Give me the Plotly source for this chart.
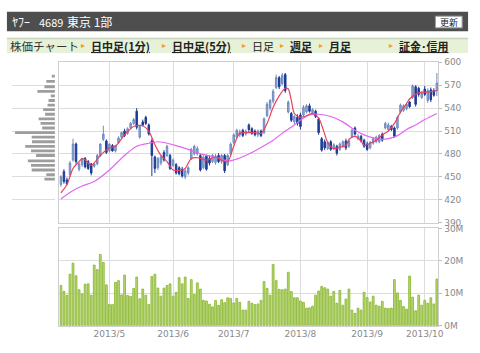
import plotly.graph_objects as go

W, H = 480, 353

# ---------------- data ----------------
apr_days = [8, 9, 10, 11, 12, 15, 16, 17, 18, 19, 22, 23, 24, 25, 26, 30]
may_days = [1, 2, 7, 8, 9, 10, 13, 14, 15, 16, 17, 20, 21, 22, 23, 24, 27, 28, 29, 30, 31]
jun_days = [3, 4, 5, 6, 7, 10, 11, 12, 13, 14, 17, 18, 19, 20, 21, 24, 25, 26, 27, 28]
jul_days = [1, 2, 3, 4, 5, 8, 9, 10, 11, 12, 16, 17, 18, 19, 22, 23, 24, 25, 26, 29, 30, 31]
aug_days = [1, 2, 5, 6, 7, 8, 9, 12, 13, 14, 15, 16, 19, 20, 21, 22, 23, 26, 27, 28, 29, 30]
sep_days = [2, 3, 4, 5, 6, 9, 10, 11, 12, 13, 17, 18, 19, 20, 24, 25, 26, 27, 30]
oct_days = [1, 2, 3, 4, 7]

dates = ([f"2013-04-{d:02d}" for d in apr_days] + [f"2013-05-{d:02d}" for d in may_days] +
         [f"2013-06-{d:02d}" for d in jun_days] + [f"2013-07-{d:02d}" for d in jul_days] +
         [f"2013-08-{d:02d}" for d in aug_days] + [f"2013-09-{d:02d}" for d in sep_days] +
         [f"2013-10-{d:02d}" for d in oct_days])

opens = [440, 457, 446, 453, 472, 493, 460, 466, 474, 470, 467, 464, 467, 478, 499, 497,
         484, 491, 484, 495, 502, 510, 507, 514, 520, 536, 502, 522, 528, 518, 497, 476,
         462, 468, 482, 478, 478, 465, 466, 462, 460, 450, 455, 474, 480, 480, 478, 462,
         477, 474, 470, 469, 478, 470, 478, 466, 480, 495, 502, 505, 511, 506, 518, 513,
         510, 505, 510, 508, 530, 540, 549, 567, 580, 572, 584, 535, 533, 522, 528, 531,
         531, 535, 543, 534, 536, 526, 500, 496, 487, 496, 487, 490, 486, 490, 497, 490,
         503, 514, 500, 503, 498, 493, 488, 494, 496, 496, 506, 514, 512, 516, 514, 514,
         535, 537, 539, 548, 554, 568, 566, 554, 565, 550, 564, 563, 563]
highs = [452, 460, 449, 471, 500, 495, 469, 475, 476, 472, 468, 469, 480, 494, 517, 499,
         494, 493, 492, 503, 509, 513, 515, 522, 527, 540, 518, 525, 530, 520, 500, 478,
         476, 478, 485, 492, 480, 474, 468, 464, 463, 460, 464, 488, 492, 490, 480, 478,
         479, 478, 480, 480, 481, 480, 480, 480, 495, 507, 513, 512, 513, 512, 520, 515,
         512, 512, 512, 528, 548, 552, 565, 584, 582, 586, 586, 550, 535, 531, 532, 534,
         544, 545, 546, 540, 538, 528, 502, 499, 497, 498, 494, 492, 495, 498, 500, 499,
         513, 516, 506, 505, 500, 496, 497, 502, 504, 506, 508, 522, 521, 518, 516, 530,
         546, 545, 547, 549, 571, 570, 568, 562, 569, 566, 567, 566, 586]
lows = [437, 441, 439, 450, 470, 467, 457, 463, 461, 459, 452, 462, 465, 476, 497, 480,
        482, 483, 482, 493, 500, 502, 505, 512, 518, 512, 500, 516, 518, 504, 451, 455,
        459, 465, 470, 476, 459, 463, 453, 452, 449, 447, 452, 472, 478, 478, 457, 460,
        458, 465, 468, 466, 468, 467, 455, 464, 478, 493, 500, 502, 502, 504, 508, 505,
        503, 502, 502, 506, 528, 537, 546, 565, 565, 570, 560, 533, 522, 519, 517, 512,
        528, 533, 534, 532, 527, 505, 483, 485, 485, 484, 485, 478, 484, 488, 485, 488,
        501, 504, 498, 495, 488, 484, 486, 492, 494, 494, 496, 512, 510, 510, 501, 512,
        533, 535, 537, 540, 552, 542, 555, 552, 556, 547, 548, 555, 556]
closes = [450, 444, 441, 468, 493, 470, 467, 474, 463, 461, 455, 467, 478, 493, 506, 482,
          493, 484, 491, 501, 508, 504, 513, 520, 525, 515, 516, 518, 520, 506, 478, 461,
          474, 476, 472, 490, 461, 472, 455, 454, 451, 458, 462, 486, 490, 487, 459, 476,
          460, 468, 478, 477, 470, 478, 458, 478, 493, 505, 511, 509, 504, 510, 512, 507,
          505, 510, 504, 526, 545, 550, 562, 580, 568, 583, 563, 548, 524, 529, 520, 516,
          541, 543, 536, 538, 529, 508, 485, 488, 495, 486, 492, 481, 493, 496, 488, 497,
          511, 506, 503, 497, 490, 486, 495, 500, 502, 504, 498, 520, 518, 512, 503, 528,
          544, 543, 545, 542, 569, 545, 558, 560, 558, 563, 551, 557, 573]

volumes_m = [12.4, 10.6, 9.4, 15.9, 19.3, 15.4, 11.1, 9.8, 12.8, 12.9, 9.4, 18.7, 17.3, 22.0,
             19.5, 12.6, 6.5, 6.5, 13.4, 13.9, 9.5, 15.6, 9.3, 9.0, 11.5, 15.0, 8.3, 11.3,
             9.4, 6.5, 15.2, 15.9, 11.6, 9.1, 11.6, 12.4, 12.9, 9.1, 10.3, 14.8, 12.9, 15.0,
             8.4, 14.2, 9.6, 13.2, 11.3, 7.8, 7.6, 6.6, 5.8, 7.8, 6.3, 8.0, 7.1, 8.6, 8.4,
             7.0, 8.4, 7.2, 4.8, 4.8, 7.5, 6.9, 6.5, 6.7, 7.8, 13.6, 11.5, 9.4, 18.9, 13.9,
             11.2, 11.1, 11.3, 16.5, 10.5, 8.6, 8.6, 7.6, 7.2, 5.4, 5.5, 6.0, 9.4, 10.7,
             12.1, 11.7, 11.3, 9.1, 10.6, 6.9, 10.9, 6.3, 8.2, 11.3, 4.8, 3.8, 5.4, 4.8,
             10.3, 8.7, 7.3, 9.1, 6.3, 6.0, 7.5, 5.4, 5.3, 5.4, 14.2, 10.1, 7.8, 5.9, 5.1,
             15.3, 8.8, 4.6, 9.4, 6.3, 7.8, 6.9, 8.6, 6.7, 14.4]

ma_short_idx = [0, 2, 4, 6, 7, 8, 10, 13, 16, 18, 21, 24, 27, 29, 31, 33, 35, 37, 40, 41, 43,
                45, 48, 51, 53, 55, 57, 59, 62, 64, 66, 68, 70, 72, 74, 75, 76, 77, 79, 81,
                83, 85, 86, 87, 88, 90, 92, 94, 95, 97, 99, 100, 102, 104, 106, 108, 110,
                112, 114, 115, 117, 119, 121, 124]
ma_short_val = [429, 440, 461, 470, 474, 472, 465, 478, 488, 490, 505, 516, 517, 510, 492, 478,
                470, 459, 459, 461, 474, 475, 472, 476, 472, 470, 490, 507, 508, 508, 507,
                520, 541, 556, 566, 565, 550, 533, 528, 530, 533, 527, 518, 506, 495, 487,
                489, 491, 499, 503, 497, 491, 494, 498, 505, 510, 520, 535, 546, 552, 558,
                561, 561, 563]
ma_long_idx = [0, 4, 7, 11, 16, 21, 25, 29, 32, 34, 38, 42, 46, 51, 55, 57, 62, 66, 70, 74,
               77, 80, 82, 85, 89, 93, 97, 100, 103, 106, 108, 111, 114, 117, 120, 124]
ma_long_val = [421, 432, 438, 444, 459, 478, 490, 494, 496, 495, 491, 486, 480, 476, 470.5,
               472, 480, 488.5, 498, 510, 518, 527, 531, 532, 529, 522, 511, 505, 501, 499,
               500, 504, 512, 518, 525, 533]

profile_price = [447, 453, 459, 465, 471, 478, 484, 490, 496, 502, 508, 514, 520, 526, 532,
                 538, 544, 550, 556, 562, 568, 575, 582]
profile_len = [11, 9, 24.3, 25, 28.3, 19.7, 25, 31, 24, 24.3, 41.7, 13.3, 15, 17, 10.3, 12.3,
               7.7, 6.7, 4.3, 18.3, 11, 9, 3.3]

price_ticks = [390, 420, 450, 480, 510, 540, 570, 600]
vol_ticks = [0, 10, 20, 30]
vol_labels = ["0M", "10M", "20M", "30M"]
month_ticks = ["2013-05-01", "2013-06-03", "2013-07-01", "2013-08-01", "2013-09-02", "2013-10-01"]
month_labels = ["2013/5", "2013/6", "2013/7", "2013/8", "2013/9", "2013/10"]

# ---------------- helpers ----------------
def px(x):
    return x / W

def py(y):
    return 1 - y / H

GRID = "#dcdcdc"
BORDER = "#cfcfcf"
TICKC = "#8a8a8a"
JP = "Noto Sans CJK JP"

fig = go.Figure()

fig.add_trace(go.Bar(
    x=profile_len, y=profile_price, orientation="h", width=3.7,
    marker=dict(color="#9d9d9d", line=dict(width=0)),
    xaxis="x3", yaxis="y", showlegend=False, hoverinfo="skip"))

fig.add_trace(go.Candlestick(
    x=dates, open=opens, high=highs, low=lows, close=closes,
    increasing=dict(line=dict(color="#6f8bbf", width=1), fillcolor="#95abd3"),
    decreasing=dict(line=dict(color="#1d3b94", width=1), fillcolor="#1d3b94"),
    whiskerwidth=0, xaxis="x", yaxis="y", showlegend=False))

fig.add_trace(go.Scatter(
    x=[dates[i] for i in ma_long_idx], y=ma_long_val, mode="lines",
    line=dict(color="#e466f2", width=1.2, shape="spline", smoothing=0.8),
    xaxis="x", yaxis="y", showlegend=False, hoverinfo="skip"))
fig.add_trace(go.Scatter(
    x=[dates[i] for i in ma_short_idx], y=ma_short_val, mode="lines",
    line=dict(color="#e8405e", width=1.2, shape="spline", smoothing=0.8),
    xaxis="x", yaxis="y", showlegend=False, hoverinfo="skip"))

fig.add_trace(go.Bar(
    x=dates, y=volumes_m,
    marker=dict(color="#b8d975", line=dict(color="#85b32a", width=0.8)),
    xaxis="x2", yaxis="y2", showlegend=False))

xdom = [px(60), px(443)]
common_x = dict(type="category", domain=xdom, range=[-0.5, len(dates) - 0.5],
                tickvals=month_ticks, showgrid=True, gridcolor=GRID, gridwidth=1,
                showline=True, mirror=True, linecolor=BORDER, linewidth=1,
                zeroline=False, ticks="", fixedrange=True)

fig.update_layout(
    width=W, height=H, margin=dict(l=0, r=0, t=0, b=0),
    paper_bgcolor="white", plot_bgcolor="white",
    font=dict(family="DejaVu Sans", size=9, color=TICKC),
    bargap=0.4,
    xaxis=dict(**common_x, anchor="y", showticklabels=False,
               rangeslider=dict(visible=False)),
    xaxis2=dict(**common_x, anchor="y2", ticktext=month_labels, showticklabels=True,
                tickfont=dict(size=9, color=TICKC)),
    xaxis3=dict(domain=[px(12), px(55.5)], range=[45, 0], anchor="y", visible=False,
                fixedrange=True),
    yaxis=dict(domain=[py(224), py(59)], range=[390, 600], side="right", anchor="x",
               tickvals=price_ticks, showgrid=True, gridcolor=GRID, showline=True,
               mirror=True, linecolor=BORDER, zeroline=False, ticks="outside",
               ticklen=3, tickcolor="#bbbbbb", tickfont=dict(size=9, color=TICKC)),
    yaxis2=dict(domain=[py(330), py(230)], range=[0, 30], side="right", anchor="x2",
                tickvals=vol_ticks, ticktext=vol_labels, showgrid=True, gridcolor=GRID,
                showline=True, mirror=True, linecolor=BORDER, zeroline=False,
                ticks="outside", ticklen=3, tickcolor="#bbbbbb",
                tickfont=dict(size=9, color=TICKC)),
)

shapes = []
annos = []
# header bar
shapes.append(dict(type="rect", xref="paper", yref="paper", x0=px(7), x1=px(473),
                   y0=py(27), y1=py(7), fillcolor="#4e4e4e", line=dict(width=0)))
for txt, xx, fs in [("ﾔﾌｰ", 10, 12), ("4689", 37, 11), ("東京 1部", 66, 12)]:
    annos.append(dict(text=txt, x=px(xx), y=py(17), xref="paper", yref="paper",
                      xanchor="left", yanchor="middle", showarrow=False,
                      font=dict(family=JP, size=fs, color="white")))
shapes.append(dict(type="rect", xref="paper", yref="paper", x0=px(440), x1=px(467),
                   y0=py(23.5), y1=py(11.5), fillcolor="white", line=dict(color="#999999", width=1)))
annos.append(dict(text="更新", x=px(453.5), y=py(17.5), xref="paper", yref="paper",
                  xanchor="center", yanchor="middle", showarrow=False,
                  font=dict(family=JP, size=9, color="#222222")))
# nav bar
shapes.append(dict(type="rect", xref="paper", yref="paper", x0=px(7), x1=px(473),
                   y0=py(49.5), y1=py(34), fillcolor="#e7f1d8", line=dict(width=0)))
shapes.append(dict(type="line", xref="paper", yref="paper", x0=px(7), x1=px(473),
                   y0=py(34.5), y1=py(34.5), line=dict(color="#c8d4bb", width=1.5)))
annos.append(dict(text="株価チャート", x=px(8), y=py(42.5), xref="paper", yref="paper",
                  xanchor="left", yanchor="middle", showarrow=False,
                  font=dict(family=JP, size=11.5, color="#333333")))
for xx in [84, 165.5, 246.5, 285, 324, 395]:
    annos.append(dict(text="▸", x=px(xx), y=py(42), xref="paper", yref="paper",
                      xanchor="center", yanchor="middle", showarrow=False,
                      font=dict(family="DejaVu Sans", size=8, color="#f0a020")))
for txt, xx, link in [("日中足(1分)", 90, True), ("日中足(5分)", 171.5, True), ("日足", 253, False),
                      ("週足", 291, True), ("月足", 330, True), ("証金･信用", 401, True)]:
    t = f"<b><u>{txt}</u></b>" if link else txt
    annos.append(dict(text=t, x=px(xx), y=py(42.5), xref="paper", yref="paper",
                      xanchor="left", yanchor="middle", showarrow=False,
                      font=dict(family=JP, size=11, color="#222222")))

fig.update_layout(shapes=shapes, annotations=annos)
fig.write_html("out.html")
